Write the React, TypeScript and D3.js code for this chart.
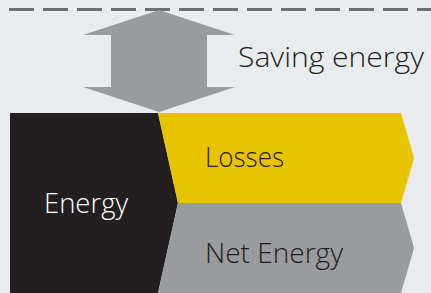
import React from "react";
import * as d3 from "d3";

const W = 431;
const H = 293;

const sourceLabel = ["Energy"];
const flowLabels = ["Losses", "Net Energy"];
const flowShares = [1, 1];
const savingLabel = "Saving energy";

const colors = {
  bg: "#e8ecee",
  dash: "#6d6e70",
  black: "#231f20",
  yellow: "#e8c300",
  grey: "#999b9e",
  text: "#231f20",
};

export default function App() {
  const total = d3.sum(flowShares);
  const y = d3.scaleLinear().domain([0, total]).range([113, 293]);
  const stackTops = d3.cumsum([0, ...flowShares]);

  const xLeft = 10;
  const xSplit = 158;
  const xNotch = 178;
  const xRight = 401;
  const xTip = 414;

  const line = d3.line<[number, number]>();

  const blackPath =
    line([
      [xLeft, y(0)],
      [xSplit, y(0)],
      [xNotch, y(stackTops[1])],
      [xSplit, y(total)],
      [xLeft, y(total)],
    ]) + "Z";

  const flowPaths = flowShares.map((_, i) => {
    const t = y(stackTops[i]);
    const b = y(stackTops[i + 1]);
    const m = (t + b) / 2;
    const lt = i === 0 ? xSplit : xNotch;
    const lb = i === 0 ? xNotch : xSplit;
    return (
      line([
        [lt, t],
        [xRight, t],
        [xTip, m],
        [xRight, b],
        [lb, b],
      ]) + "Z"
    );
  });
  const flowColors = [colors.yellow, colors.grey];

  const cx = 159;
  const arrowPath =
    line([
      [cx, 10],
      [235, 35],
      [207, 35],
      [207, 87],
      [235, 87],
      [cx, 112],
      [83, 87],
      [111, 87],
      [111, 35],
      [83, 35],
    ]) + "Z";

  const font = "'Open Sans', 'Noto Sans', sans-serif";
  const fw = 300;

  return (
    <svg
      width={W}
      height={H}
      style={{ position: "absolute", left: 0, top: 0, display: "block" }}
    >
      <rect x={0} y={0} width={W} height={H} fill={colors.bg} />
      <line
        x1={9}
        x2={W}
        y1={9.5}
        y2={9.5}
        stroke={colors.dash}
        strokeWidth={3}
        strokeDasharray="25 9"
      />
      <path d={arrowPath} fill={colors.grey} />
      <path d={blackPath} fill={colors.black} />
      {flowPaths.map((d, i) => (
        <path key={i} d={d} fill={flowColors[i]} />
      ))}
      <text
        x={238}
        y={67}
        fontFamily={font}
        fontWeight={fw}
        fontSize={27}
        fill={colors.text}
        textLength={186}
        lengthAdjust="spacingAndGlyphs"
      >
        {savingLabel}
      </text>
      <text
        x={44}
        y={213}
        fontFamily={font}
        fontWeight={fw}
        fontSize={27}
        fill="#ffffff"
        textLength={84}
        lengthAdjust="spacingAndGlyphs"
      >
        {sourceLabel[0]}
      </text>
      {flowLabels.map((lab, i) => (
        <text
          key={lab}
          x={205}
          y={i === 0 ? 167 : 263}
          fontFamily={font}
          fontWeight={fw}
          fontSize={27}
          fill={colors.text}
          textLength={i === 0 ? 79 : 138}
          lengthAdjust="spacingAndGlyphs"
        >
          {lab}
        </text>
      ))}
    </svg>
  );
}
